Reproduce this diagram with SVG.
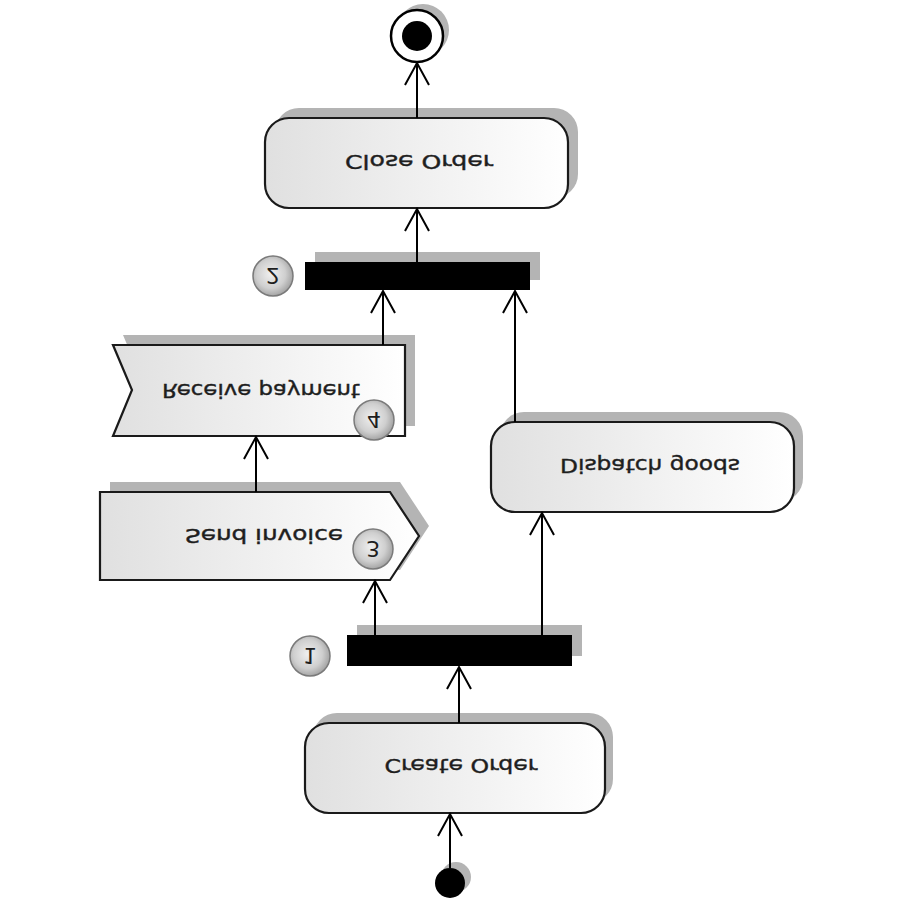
<svg xmlns="http://www.w3.org/2000/svg" width="900" height="900" viewBox="0 0 900 900">
<defs>
<linearGradient id="boxg" x1="0" y1="0" x2="1" y2="0">
<stop offset="0" stop-color="#e0e0e0"/>
<stop offset="1" stop-color="#ffffff"/>
</linearGradient>
<radialGradient id="badgeg" cx="0.45" cy="0.45" r="0.6">
<stop offset="0" stop-color="#f0f0f0"/>
<stop offset="0.6" stop-color="#cfcfcf"/>
<stop offset="1" stop-color="#9a9a9a"/>
</radialGradient>
<marker id="arr" viewBox="-26 -15 30 30" refX="0" refY="0" markerWidth="30" markerHeight="30" markerUnits="userSpaceOnUse" orient="auto">
<path d="M-22,-12 L0,0 L-22,12" fill="none" stroke="#000" stroke-width="2"/>
</marker>
</defs>
<style>
.shadow{fill:#b4b4b4;stroke:none}
.box{fill:url(#boxg);stroke:#1a1a1a;stroke-width:2.2}
.bar{fill:#000}
.lbl{font-family:"DejaVu Sans",sans-serif;font-size:19px;fill:#1e1e1e;stroke:#1e1e1e;stroke-width:0.4;text-anchor:middle}
.badge{fill:url(#badgeg);stroke:#7a7a7a;stroke-width:1.5}
.num{font-family:"DejaVu Sans",sans-serif;font-size:22px;fill:#1e1e1e;text-anchor:middle}
.conn{stroke:#000;stroke-width:2;fill:none}
</style>
<rect width="900" height="900" fill="#fff"/>

<g id="final">
<circle class="shadow" cx="423" cy="30" r="26"/>
<circle cx="417" cy="36" r="26" fill="#fff" stroke="#000" stroke-width="2.5"/>
<circle cx="417" cy="36" r="15" fill="#000"/>
</g>

<g id="close-order">
<rect class="shadow" x="275" y="108" width="303" height="90" rx="24"/>
<rect class="box" x="265" y="118" width="303" height="90" rx="24"/>
<text class="lbl" transform="translate(419,155) scale(1,-1)" textLength="148" lengthAdjust="spacingAndGlyphs">Close Order</text>
</g>

<g id="join">
<rect class="shadow" x="315" y="252" width="225" height="28"/>
<rect class="bar" x="305" y="262" width="225" height="28"/>
<circle class="badge" cx="273" cy="276" r="20"/>
<text class="num" transform="translate(273,268) scale(1,-1)">2</text>
</g>

<g id="receive-payment">
<polygon class="shadow" points="123,335 415,335 415,426 123,426 142,380"/>
<polygon class="box" points="113,345 405,345 405,436 113,436 132,390"/>
<text class="lbl" transform="translate(261,384) scale(1,-1)" textLength="198" lengthAdjust="spacingAndGlyphs">Receive payment</text>
<circle class="badge" cx="374" cy="420" r="20"/>
<text class="num" transform="translate(374,412) scale(1,-1)">4</text>
</g>

<g id="dispatch-goods">
<rect class="shadow" x="500" y="412" width="303" height="90" rx="24"/>
<rect class="box" x="491" y="422" width="303" height="90" rx="24"/>
<text class="lbl" transform="translate(650,459) scale(1,-1)" textLength="180" lengthAdjust="spacingAndGlyphs">Dispatch goods</text>
</g>

<g id="send-invoice">
<polygon class="shadow" points="110,482 400,482 429,526 400,570 110,570"/>
<polygon class="box" points="100,492 390,492 419,536 390,580 100,580"/>
<text class="lbl" transform="translate(264,529) scale(1,-1)" textLength="158" lengthAdjust="spacingAndGlyphs">Send invoice</text>
<circle class="badge" cx="373" cy="549" r="20"/>
<text class="num" transform="translate(373,541) scale(1,-1)">3</text>
</g>

<g id="fork">
<rect class="shadow" x="357" y="625" width="225" height="31"/>
<rect class="bar" x="347" y="635" width="225" height="31"/>
<circle class="badge" cx="310" cy="656" r="20"/>
<text class="num" transform="translate(310,648) scale(1,-1)">1</text>
</g>

<g id="create-order">
<rect class="shadow" x="313" y="713" width="300" height="90" rx="24"/>
<rect class="box" x="305" y="723" width="300" height="90" rx="24"/>
<text class="lbl" transform="translate(461,759) scale(1,-1)" textLength="153" lengthAdjust="spacingAndGlyphs">Create Order</text>
</g>

<g id="initial">
<circle class="shadow" cx="456" cy="877" r="15"/>
<circle cx="450" cy="883" r="15" fill="#000"/>
</g>

<g id="connectors">
<line class="conn" x1="450" y1="868" x2="450" y2="814" marker-end="url(#arr)"/>
<line class="conn" x1="459" y1="723" x2="459" y2="667" marker-end="url(#arr)"/>
<line class="conn" x1="375" y1="635" x2="375" y2="581" marker-end="url(#arr)"/>
<line class="conn" x1="542" y1="635" x2="542" y2="513" marker-end="url(#arr)"/>
<line class="conn" x1="256" y1="492" x2="256" y2="437" marker-end="url(#arr)"/>
<line class="conn" x1="383" y1="345" x2="383" y2="291" marker-end="url(#arr)"/>
<line class="conn" x1="515" y1="422" x2="515" y2="291" marker-end="url(#arr)"/>
<line class="conn" x1="417" y1="262" x2="417" y2="209" marker-end="url(#arr)"/>
<line class="conn" x1="417" y1="118" x2="417" y2="63" marker-end="url(#arr)"/>
</g>
</svg>
